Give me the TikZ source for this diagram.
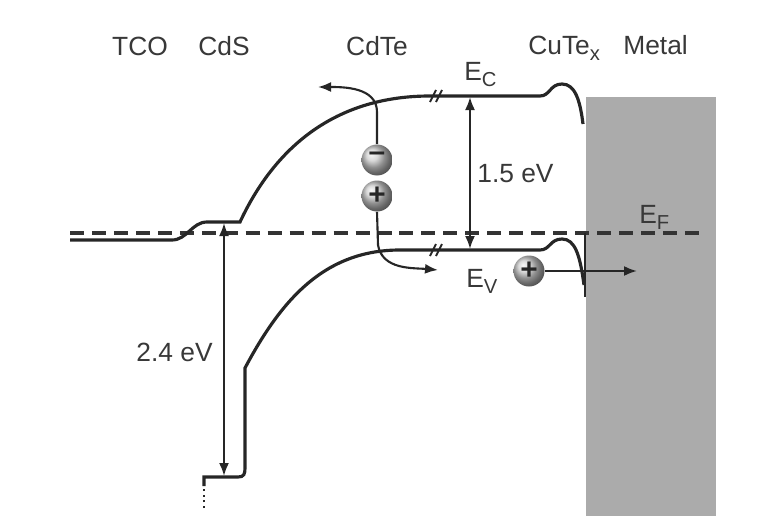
\documentclass[tikz,border=0pt]{standalone}
\usepackage{fontspec}
\setmainfont{Liberation Sans}
\usetikzlibrary{arrows.meta,shadings}

\newcommand{\bandsub}[1]{\raisebox{-0.5ex}{\fontsize{11.5}{11.5}\selectfont #1}}

\begin{document}
\begin{tikzpicture}[
    x=0.02cm, y=-0.02cm,
    font=\fontsize{15}{17}\selectfont,
    lbl/.style    = {text=black!78, inner sep=0pt},
    band/.style   = {draw=black!85, line width=1.8pt},
    fermi/.style  = {draw=black!80, line width=1.9pt,
                     dash pattern=on 8pt off 4.5pt},
    arr/.style    = {-{Latex[length=2.6mm,width=2mm]}, line width=1.2pt,
                     draw=black!85},
    dblarr/.style = {{Latex[length=2.6mm,width=2mm]}-{Latex[length=2.6mm,width=2mm]},
                     line width=1.2pt, draw=black!85},
    carrier/.style= {circle, minimum size=6.2mm, inner sep=0pt,
                     shading=ball, ball color=gray!40, text=black!85,
                     font=\fontsize{17}{17}\selectfont\bfseries},
  ]

  \useasboundingbox (0,0) rectangle (784,531);

  \fill[black!33] (586,97) rectangle (716,516);

  \node[lbl, anchor=base] (tco)  at (140,55) {TCO};
  \node[lbl, anchor=base] (cds)  at (224,55) {CdS};
  \node[lbl, anchor=base] (cdte) at (377,55) {CdTe};
  \node[lbl, anchor=base west] (cutex) at (528,54) {CuTe\bandsub{x}};
  \node[lbl, anchor=base west] (metal) at (623,54) {Metal};

  \node[lbl, anchor=base west] (ec) at (464,80)  {E\bandsub{C}};
  \node[lbl, anchor=base west] (ev) at (466,287) {E\bandsub{V}};
  \node[lbl, anchor=base west] (ef) at (639,223) {E\bandsub{F}};
  \node[lbl, anchor=base west] (gapB) at (477,182) {1.5 eV};
  \node[lbl, anchor=base east] (gapA) at (213,361) {2.4 eV};

  \draw[fermi] (70,233) -- (706,233);
  \draw[line width=1.1pt, black!85] (585,233) -- (585,297);

  \draw[band] (70,240) -- (172,240) .. controls (187,240) and (192,222) .. (207,222)
    -- (240,222) to[out=65,in=180] (430,96) -- (540,96)
    .. controls (550,96) and (550,84) .. (562,84)
    .. controls (575,84) and (580,100) .. (583,124);

  \draw[line width=1.2pt, black!85, dotted] (204,508) -- (204,486);
  \draw[band] (204,486) -- (204,477) -- (238,477)
    .. controls (244,477) and (245,474) .. (245,468) -- (245,368)
    to[out=62,in=180] (400,250) -- (540,250)
    .. controls (550,250) and (550,239) .. (562,239)
    .. controls (575,239) and (580,255) .. (584,285);

  \foreach \yb in {96,250} {
    \draw[line width=1.1pt, black!85] (430,\yb+6) -- (436,\yb-6);
    \draw[line width=1.1pt, black!85] (436,\yb+6) -- (442,\yb-6);
  }

  \coordinate (cbA) at (470,97);
  \coordinate (vbA) at (470,249);
  \coordinate (cbB) at (224,223);
  \coordinate (vbB) at (224,476);
  \draw[dblarr] (cbA) -- (vbA);
  \draw[dblarr] (cbB) -- (vbB);

  \node[carrier] (e1) at (377,160) {\raisebox{0.35ex}{--}};
  \node[carrier] (h1) at (377,196) {+};
  \node[carrier] (h2) at (529,271) {+};

  \coordinate (eout) at (318,87);
  \coordinate (hout) at (438,270);
  \coordinate (hmet) at (637,271);
  \draw[arr] (e1.north) -- (377,112) to[out=90,in=0] (eout);
  \draw[arr] (h1.south) -- (378,245) to[out=-80,in=175] (hout);
  \draw[arr] (h2.east) -- (hmet);

\end{tikzpicture}
\end{document}
